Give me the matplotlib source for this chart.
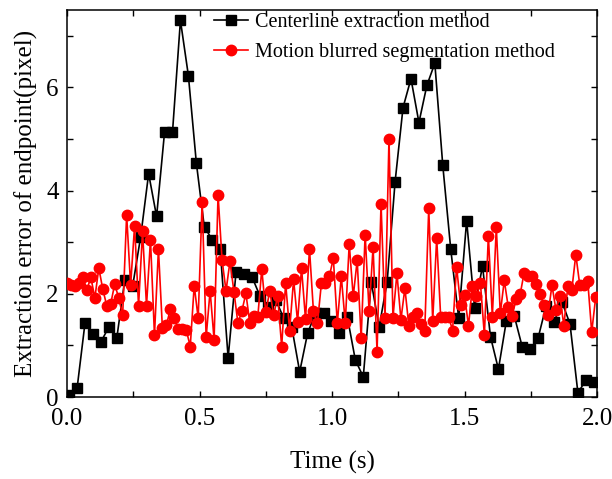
import numpy as np
import matplotlib

matplotlib.use("Agg")
import matplotlib.pyplot as plt
from matplotlib.ticker import MultipleLocator

# centerline extraction method, sampled every 0.03 s
black_dt = 0.03
black_t0 = 0.008
black_err = [
    0.04, 0.17, 1.44, 1.22, 1.07, 1.36, 1.15, 2.27, 2.16, 3.11,
    4.33, 3.50, 5.13, 5.13, 7.30, 6.23, 4.54, 3.30, 3.05, 2.87,
    0.76, 2.43, 2.39, 2.33, 1.96, 1.75, 1.88, 1.53, 1.36, 0.49,
    1.24, 1.63, 1.63, 1.48, 1.24, 1.55, 0.72, 0.39, 2.23, 1.36,
    2.23, 4.17, 5.61, 6.17, 5.32, 6.04, 6.47, 4.49, 2.87, 1.53,
    3.42, 1.73, 2.54, 1.17, 0.54, 1.48, 1.57, 0.97, 0.93, 1.15,
    1.77, 1.46, 1.84, 1.42, 0.08, 0.33, 0.29,
]

# motion blurred segmentation method, sampled every 0.015 s
red_dt = 0.015
red_err = [
    2.22, 2.17, 2.15, 2.22, 2.32, 2.08, 2.32, 1.92, 2.50, 2.09,
    1.77, 1.81, 2.19, 1.92, 1.59, 3.53, 2.17, 3.32, 1.77, 3.21,
    1.77, 3.05, 1.20, 2.87, 1.33, 1.40, 1.70, 1.53, 1.31, 1.31,
    1.30, 0.98, 2.16, 1.53, 3.79, 1.16, 2.06, 1.11, 3.92, 2.66,
    2.06, 2.63, 2.04, 1.43, 1.67, 2.01, 1.43, 1.57, 1.56, 2.48,
    1.64, 2.06, 1.59, 1.96, 0.98, 2.21, 1.29, 2.28, 1.46, 2.50,
    1.51, 2.87, 1.66, 1.43, 2.21, 2.21, 2.34, 2.69, 1.43, 2.34,
    1.44, 2.97, 1.95, 2.65, 1.14, 3.15, 1.66, 2.91, 0.88, 3.75,
    1.54, 5.01, 1.54, 2.40, 1.50, 2.11, 1.38, 1.56, 1.62, 1.42,
    1.29, 3.66, 1.48, 3.08, 1.56, 1.56, 1.56, 1.29, 2.53, 1.79,
    1.98, 1.38, 2.16, 1.95, 2.21, 1.20, 3.13, 1.56, 3.29, 1.62,
    2.26, 1.75, 1.58, 1.90, 1.99, 2.41, 2.34, 2.35, 2.19, 1.99,
    1.79, 1.59, 2.17, 1.69, 1.96, 1.38, 2.16, 2.08, 2.76, 2.17,
    2.17, 2.25, 1.26, 1.93,
]

labels = ["Centerline extraction method", "Motion blurred segmentation method"]

black_t = black_t0 + black_dt * np.arange(len(black_err))
red_t = red_dt * np.arange(len(red_err))

plt.rcParams["font.family"] = ["Liberation Serif", "DejaVu Serif"]

fig = plt.figure(figsize=(6.12, 4.79), dpi=100)
ax = fig.add_axes([0.1095, 0.171, 0.866, 0.808])

ax.plot(black_t, black_err, color="black", lw=1.2, marker="s", ms=7,
        label=labels[0], zorder=2)
ax.plot(red_t, red_err, color="red", lw=1.2, marker="o", ms=7.5,
        label=labels[1], zorder=3)

ax.set_xlim(0, 2.0)
ax.set_ylim(0, 7.5)
ax.xaxis.set_major_locator(MultipleLocator(0.5))
ax.xaxis.set_minor_locator(MultipleLocator(0.25))
ax.yaxis.set_major_locator(MultipleLocator(2))
ax.yaxis.set_minor_locator(MultipleLocator(1))
ax.tick_params(which="both", direction="in", top=True, right=True,
               length=4.5, width=1.0, labelsize=18)
ax.tick_params(axis="x", pad=8)
ax.tick_params(axis="y", pad=6)
for sp in ax.spines.values():
    sp.set_linewidth(1.1)

ax.set_xlabel("Time (s)", fontsize=18, labelpad=15)
ax.set_ylabel("Extraction error of endpoint(pixel)", fontsize=18, labelpad=6)

ax.legend(loc="upper left", bbox_to_anchor=(0.272, 1.0), frameon=False,
          fontsize=14.5, handlelength=1.7, handletextpad=0.35,
          labelspacing=0.55, borderpad=0.15, borderaxespad=0)

fig.savefig("out.png", dpi=100)
plt.close(fig)
